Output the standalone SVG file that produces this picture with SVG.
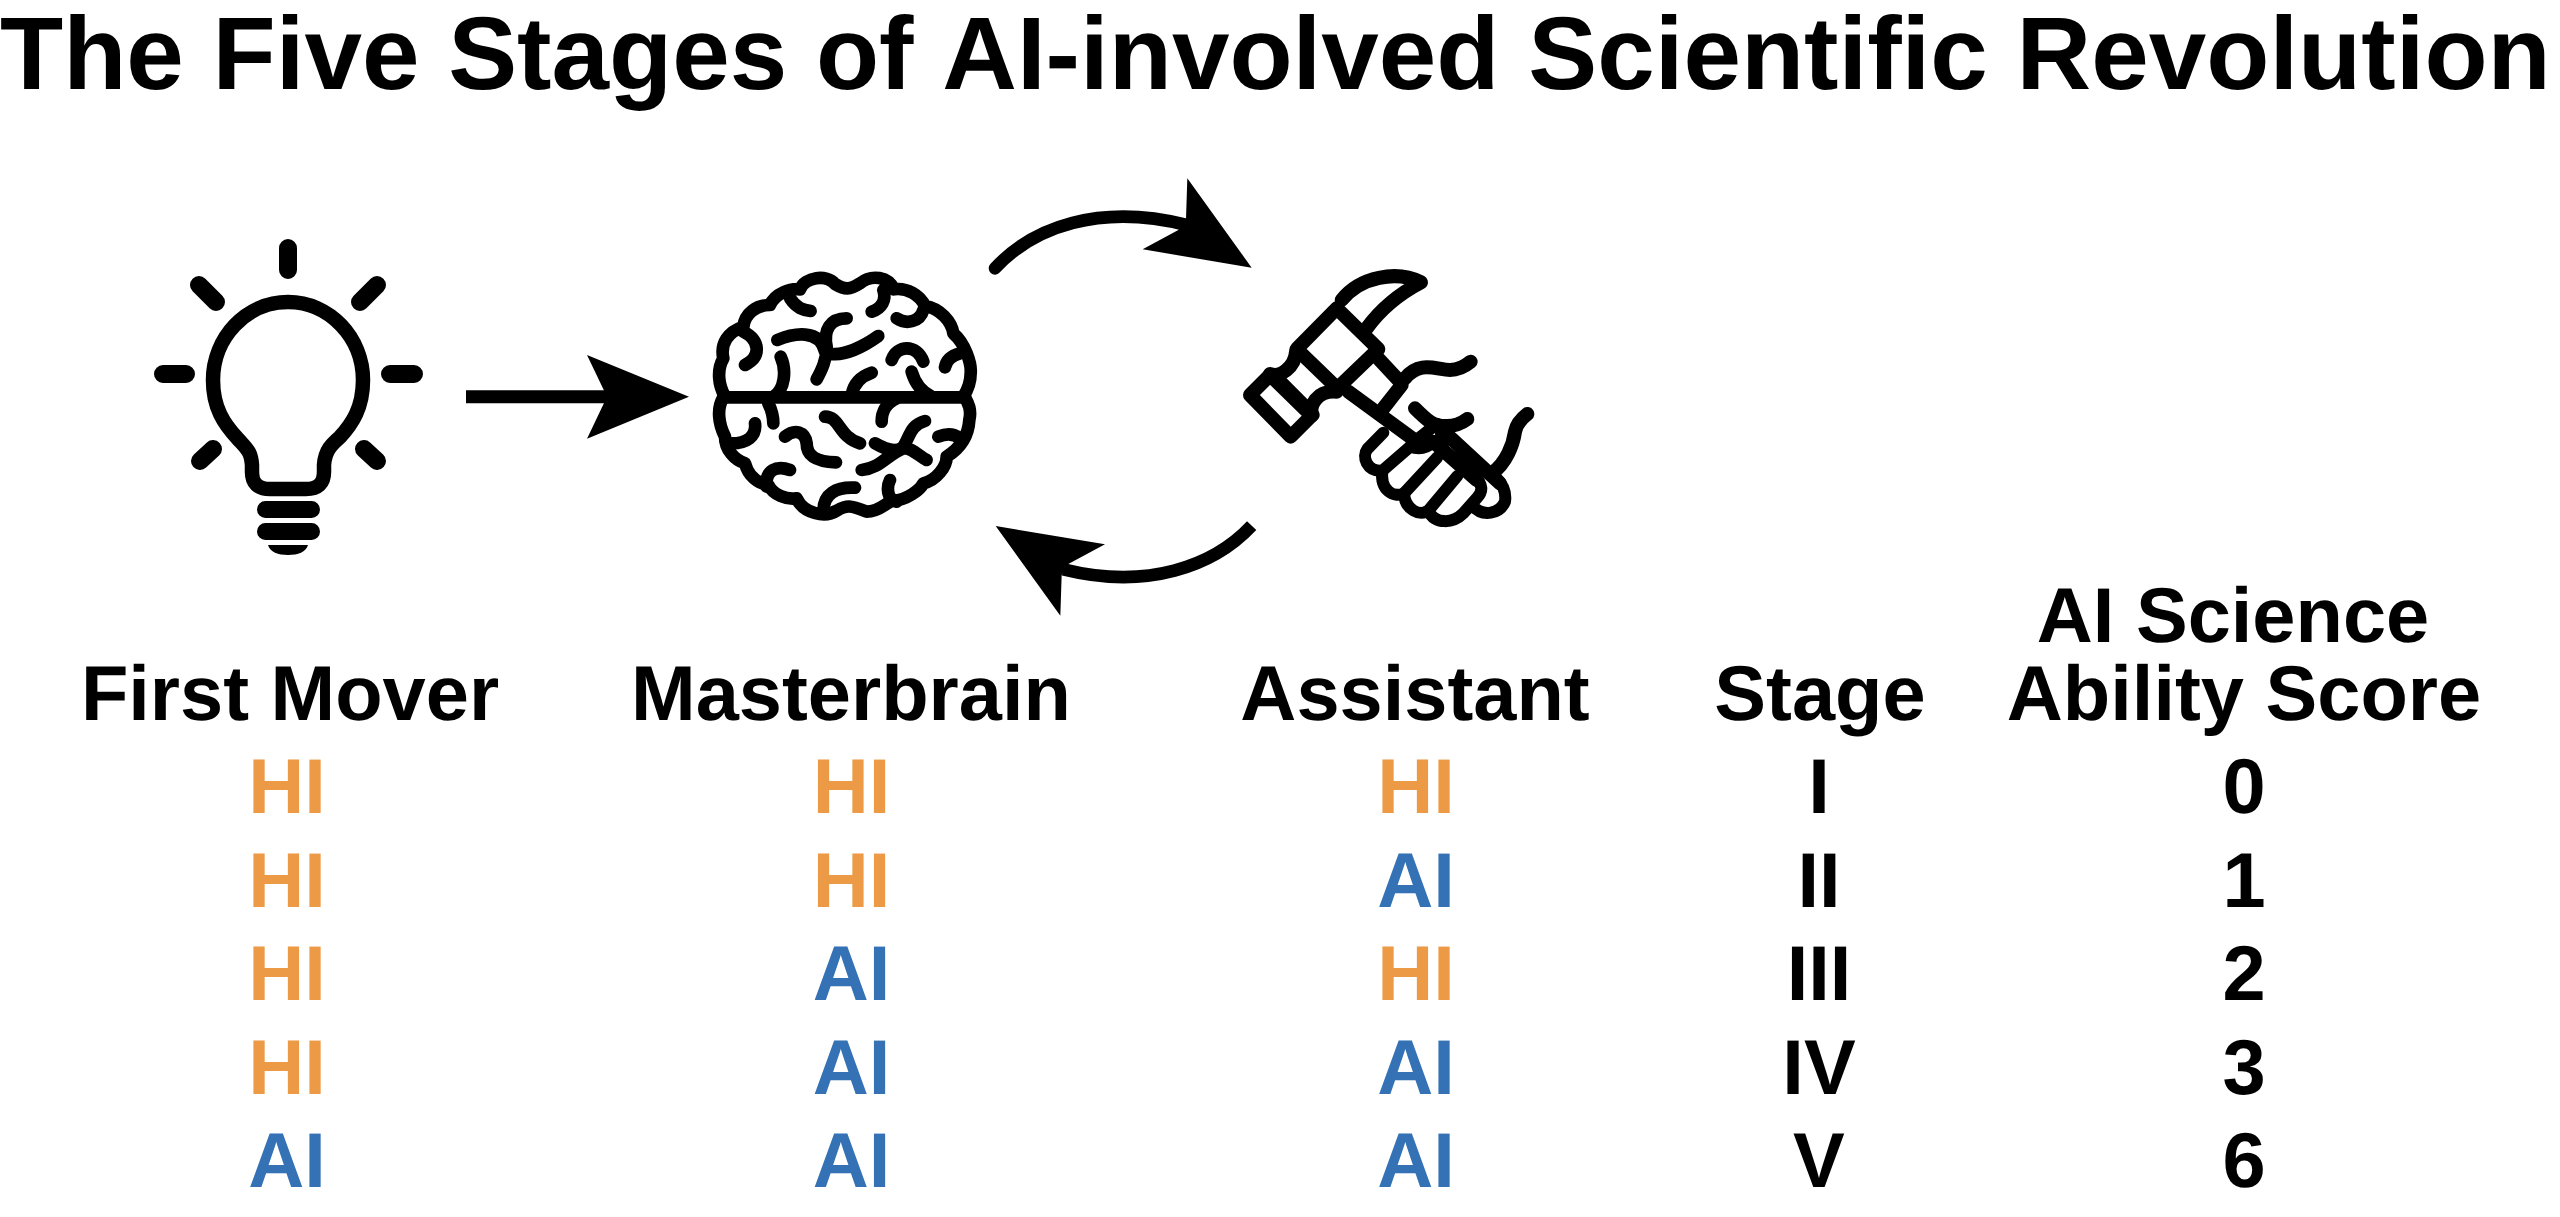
<svg xmlns="http://www.w3.org/2000/svg" width="2560" height="1217" viewBox="0 0 2560 1217">
<style>
text{font-family:"Liberation Sans",Arial,sans-serif;font-weight:700;font-size:77.600px;text-anchor:middle;fill:#000;font-kerning:none;text-rendering:geometricPrecision}
.title{font-size:103.4px;text-anchor:start}
.hi{fill:#EC9A45}
.ai{fill:#3472B5}
.ico{fill:none;stroke:#000;stroke-linecap:round;stroke-linejoin:round}
.z{stroke-width:38}
.bar{stroke-width:18}
</style>
<rect width="2560" height="1217" fill="#fff"/>
<text class="title" x="0" y="89">The Five Stages of AI-involved Scientific Revolution</text>

<g id="bulb">
<g class="ico bar">
<path d="M288 248V270M163 374H186M390 374H414M199 285L216 302M377 285L360 302M200 461L213 449M377 461L364 449"/>
</g>
<path class="ico" stroke-width="14.500" d="M288 302C246 302 213 338 213 380C213 408 224 424 238 439C248 450 251 452 252 465V472Q252 489 270 489H306Q324 489 324 472V465C325 450 332 444 340 437C352 424 363 408 363 380C363 338 330 302 288 302Z"/>
<path class="ico" stroke-width="17" d="M265.500 509.500H311.500M265.500 531.500H311.500"/>
<path d="M268 545H308C306 552 298 555 288 555C278 555 270 552 268 545Z"/>
</g>

<g id="brain" transform="translate(690 260) scale(.33333)">
<g class="ico z">
<path d="M105 410C85 375 80 330 100 295C90 250 115 215 160 200C165 160 200 135 240 135C255 100 300 85 330 88C345 50 410 42 435 72C465 90 480 90 510 70C545 42 595 50 612 88C650 82 690 105 705 138C750 145 785 185 790 220C825 250 845 310 842 340C842 370 830 395 820 410"/>
<path d="M100 412C80 445 85 490 105 530C105 570 135 600 165 610C175 650 205 670 235 675C250 705 290 720 320 715C340 760 405 775 440 752C470 735 480 735 530 755C570 755 590 725 610 722C650 720 690 690 700 670C740 660 770 620 770 590C810 565 835 530 838 480C845 450 835 430 825 412"/>
<path d="M100 412H825"/>
<path d="M300 115C320 145 340 150 362 153M545 155C575 145 590 120 580 90M620 175C650 195 690 185 700 150"/>
<path d="M262 240C310 220 390 205 405 275M470 175C420 175 400 210 410 260C410 300 395 330 380 358M415 280C460 290 520 260 565 228"/>
<path d="M160 215C210 240 215 290 165 315M272 290C290 330 285 390 250 410M605 300C620 255 680 250 700 305M765 322C770 295 790 285 810 280M665 335C675 370 695 395 725 410M485 405C490 375 510 350 545 338"/>
<path d="M125 550C170 550 200 530 195 490M235 430C245 450 250 470 250 490M285 530C315 505 345 515 350 550C350 590 380 605 438 607M405 470C450 470 445 530 510 550M575 485C575 450 590 430 620 415"/>
<path d="M705 483C660 495 660 530 640 560C620 580 590 570 555 550M515 630C570 625 590 585 640 565C660 560 690 590 710 600M745 530C770 520 790 520 810 535"/>
<path d="M230 680C225 630 260 615 300 630M400 755C400 700 440 680 495 683M600 660C590 680 590 720 620 725"/>
</g>
</g>

<g id="hammer" transform="translate(1220 250) scale(.33333)">
<g class="ico" stroke-width="42">
<path d="M230 297L350 175L475 297L352 415Z"/>
<path d="M365 150C420 80 530 60 603 97C540 130 480 180 440 235"/>
<path d="M90 435L150 375L275 497L212 560Z"/>
<path d="M150 372C180 385 225 350 228 305M278 495C265 470 290 420 350 425M175 390L275 490"/>
<path d="M470 320L540 395M385 425L590 575M545 405L490 475"/>
<path d="M555 385C600 330 650 360 690 360C720 360 740 345 752 335"/>
<path d="M585 475C620 510 640 530 680 528C705 528 725 520 742 507"/>
<path d="M815 670C860 640 880 580 885 545C890 520 905 505 922 492"/>
<path d="M650 525L840 700M640 575L770 690"/>
</g>
<g class="ico" stroke-width="36">
<path d="M490 548L442 597C425 620 440 665 487 662L570 590"/>
<path d="M487 662C480 720 520 745 552 730L652 622"/>
<path d="M552 730C555 780 600 800 625 782L712 678"/>
<path d="M625 782C645 825 700 820 730 790L770 745C790 725 790 705 760 670"/>
<path d="M755 765C790 805 840 790 855 755C860 720 840 695 830 685"/>
<path d="M570 590C600 600 620 595 640 575M590 570L640 530M660 530L670 600"/>
</g>
</g>

<g id="connectors">
<path d="M466 390.300H610V403.300H466Z"/>
<path d="M689 396.700L587 355L607 396.700L587 438.700Z"/>
<g transform="translate(960 160) scale(.33333)">
<path d="M105 325C220 200 420 130 680 195" fill="none" stroke="#000" stroke-width="38" stroke-linecap="round"/>
<path d="M682 55L875 323L548 268L655 210L678 178Z"/>
<path d="M875 1097C760 1220 560 1290 310 1228" fill="none" stroke="#000" stroke-width="38"/>
<path d="M107 1098L435 1153L325 1212L305 1245L301 1367Z"/>
</g>
</g>

<g id="headers">
<text x="290" y="720">First Mover</text>
<text x="851" y="720">Masterbrain</text>
<text x="1415" y="720">Assistant</text>
<text x="1820" y="720">Stage</text>
<text x="2233" y="642">AI Science</text>
<text x="2244" y="720">Ability Score</text>
</g>
<g id="col-first-mover">
<text class="hi" x="287" y="813">HI</text>
<text class="hi" x="287" y="906.500">HI</text>
<text class="hi" x="287" y="1000">HI</text>
<text class="hi" x="287" y="1093.500">HI</text>
<text class="ai" x="287" y="1187">AI</text>
</g>
<g id="col-masterbrain">
<text class="hi" x="851.500" y="813">HI</text>
<text class="hi" x="851.500" y="906.500">HI</text>
<text class="ai" x="851.500" y="1000">AI</text>
<text class="ai" x="851.500" y="1093.500">AI</text>
<text class="ai" x="851.500" y="1187">AI</text>
</g>
<g id="col-assistant">
<text class="hi" x="1416" y="813">HI</text>
<text class="ai" x="1416" y="906.500">AI</text>
<text class="hi" x="1416" y="1000">HI</text>
<text class="ai" x="1416" y="1093.500">AI</text>
<text class="ai" x="1416" y="1187">AI</text>
</g>
<g id="col-stage">
<text x="1819" y="813">I</text>
<text x="1819" y="906.500">II</text>
<text x="1819" y="1000">III</text>
<text x="1819" y="1093.500">IV</text>
<text x="1819" y="1187">V</text>
</g>
<g id="col-score">
<text x="2244" y="813">0</text>
<text x="2244" y="906.500">1</text>
<text x="2244" y="1000">2</text>
<text x="2244" y="1093.500">3</text>
<text x="2244" y="1187">6</text>
</g>
</svg>
